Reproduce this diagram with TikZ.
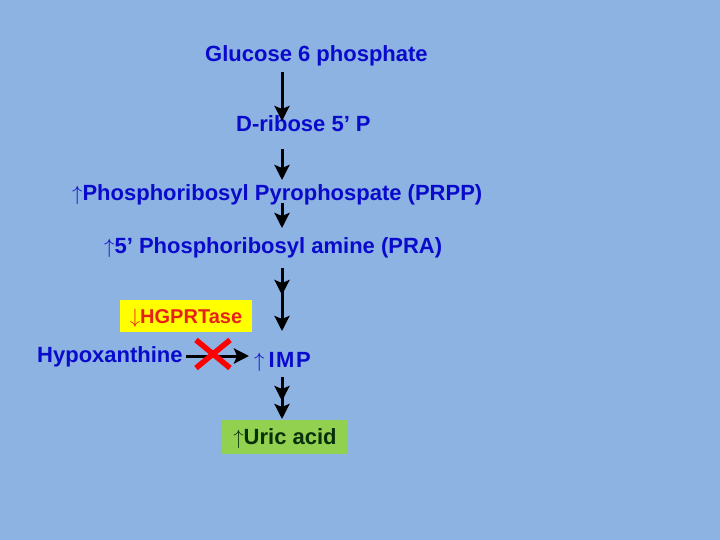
\documentclass[tikz,border=0pt]{standalone}
\usepackage{fontspec}
\setmainfont{Liberation Sans}
\usetikzlibrary{arrows.meta}
\definecolor{bgblue}{HTML}{8DB3E2}
\definecolor{txtblue}{HTML}{0A0ACC}
\definecolor{hgred}{HTML}{E8201A}
\definecolor{boxyellow}{HTML}{FFFF00}
\definecolor{boxgreen}{HTML}{92D050}
\definecolor{txtgreen}{HTML}{083008}
\tikzset{
  lbl/.style={anchor=base west, inner sep=0pt, text=txtblue, font=\fontsize{22}{26}\selectfont\bfseries},
  flow/.style={line width=3pt, -{Stealth[length=15pt,width=15pt,inset=3pt]}},
  cross/.style={line width=5.5pt, draw=red}
}
\begin{document}
\begin{tikzpicture}[x=1pt,y=-1pt]
\fill[bgblue] (0,0) rectangle (720,540);
\useasboundingbox (0,0) rectangle (720,540);
% labels
\node[lbl] (g6p) at (205,62) {Glucose 6 phosphate};
\node[lbl] (drib) at (236,132) {D-ribose 5’ P};
\node[lbl] (prpp) at (72,201) {$\uparrow$Phosphoribosyl Pyrophospate (PRPP)};
\node[lbl] (pra) at (104,254) {$\uparrow$5’ Phosphoribosyl amine (PRA)};
\node[lbl] (hypo) at (37,362) {Hypoxanthine};
\node[lbl] (imp) at (254,367) {$\uparrow$\kern4pt I\kern1.5pt M\kern1.5pt P};
\node[fill=boxyellow, minimum width=132pt, minimum height=32pt, inner sep=0pt,
      text height=14pt, text depth=0pt,
      text=hgred, font=\fontsize{20}{24}\selectfont\bfseries] (hg) at (186,316) {$\downarrow$HGPRTase};
\node[fill=boxgreen, minimum width=126pt, minimum height=34pt, inner sep=0pt,
      text height=15.8pt, text depth=0pt,
      text=txtgreen, font=\fontsize{22}{26}\selectfont\bfseries] (uric) at (285,437) {$\uparrow$Uric acid};
% arrow points
\coordinate (a1s) at (282,72);  \coordinate (a1e) at (282,121);
\coordinate (a2s) at (282,149); \coordinate (a2e) at (282,180);
\coordinate (a3s) at (282,203); \coordinate (a3e) at (282,228);
\coordinate (a4s) at (282,268); \coordinate (a4m) at (282,295); \coordinate (a4e) at (282,331);
\coordinate (a5s) at (282,377); \coordinate (a5m) at (282,401); \coordinate (a5e) at (282,419);
\coordinate (hs) at (186,356); \coordinate (he) at (249,356);
\draw[flow] (a1s) -- (a1e);
\draw[flow] (a2s) -- (a2e);
\draw[flow] (a3s) -- (a3e);
\draw[flow] (a4s) -- (a4m);
\draw[flow] (282,288) -- (a4e);
\draw[flow] (a5s) -- (a5m);
\draw[flow] (282,395) -- (a5e);
\draw[flow] (hs) -- (he);
% red cross
\draw[cross] (196,340) -- (230,368);
\draw[cross] (196,368) -- (230,340);
\end{tikzpicture}
\end{document}
